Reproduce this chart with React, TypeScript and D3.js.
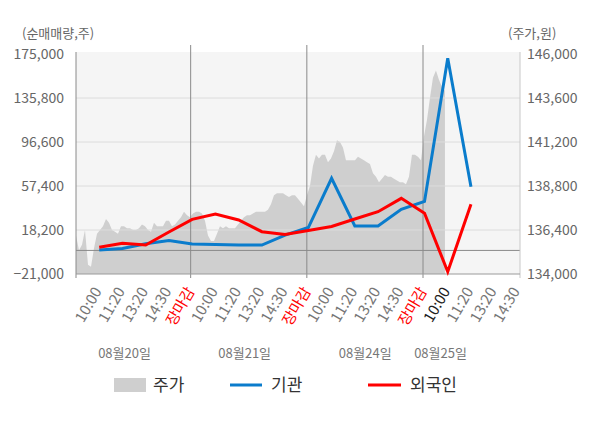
import * as d3 from 'd3'

// x-axis slots: one label per slot
const TIME_LABELS = [
  '10:00', '11:20', '13:20', '14:30', '장마감',
  '10:00', '11:20', '13:20', '14:30', '장마감',
  '10:00', '11:20', '13:20', '14:30', '장마감',
  '10:00', '11:20', '13:20', '14:30',
]
const DATES = ['08월20일', '08월21일', '08월24일', '08월25일']

// net buying (shares), one value per slot
const INSTITUTION = [
  400, 1800, 5900, 8800, 5700, 5300, 4800, 4800, 13700,
  20400, 64300, 21800, 21800, 36600, 43600, 171200, 56800,
]
const FOREIGN = [
  2800, 6400, 4800, 16400, 27700, 32500, 27100, 16700, 14200,
  17800, 21300, 28000, 34500, 46400, 33100, -19000, 41100,
]

// intraday price (won), evenly sampled
const PRICE = [
  136100, 135300, 135600, 136400, 134500, 134400, 135400, 136200, 136400, 136600,
  137000, 136800, 136400, 136300, 136200, 136600, 136600, 136500, 136500, 136400,
  136400, 136500, 136700, 136600, 136400, 136300, 136800, 136600, 136600, 136600,
  136900, 136900, 136600, 136700, 136900, 137100, 137400, 137200, 137100, 137300,
  137400, 137400, 137300, 136900, 136100, 135800, 135800, 136200, 136600, 136500,
  136600, 136500, 136500, 136500, 136700, 136900, 137100, 137200, 137200, 137300,
  137400, 137400, 137400, 137400, 137500, 137800, 138300, 138400, 138400, 138400,
  138300, 138200, 138300, 138300, 138100, 137900, 137700, 138300, 138800, 139900,
  140500, 140300, 140500, 140500, 140100, 140300, 140700, 141300, 141200, 140900,
  140200, 140200, 140200, 140200, 140400, 140300, 140200, 140100, 140000, 139500,
  139300, 139000, 139200, 139400, 139300, 139300, 139200, 139100, 139000, 139000,
  138900, 139300, 140500, 140500, 140400, 140200, 141500, 142400, 143600, 144700,
  145100, 144600, 144200, 144000,
]

const LEFT_TICKS = [-21000, 18200, 57400, 96600, 135800, 175000]
const RIGHT_TICKS = [134000, 136400, 138800, 141200, 143600, 146000]

// layout
const W = 600
const H = 428
const LEFT = 76
const RIGHT = 520
const TOP = 52
const BOTTOM = 274
const DAY_ENDS = [4, 9, 14]
const DATE_SLOTS = [1.09, 6.26, 11.45, 14.69]
const PRICE_END_SLOT = 14.88

const FONT = '"Noto Sans CJK KR", "Noto Sans", sans-serif'
const BLUE = '#0a7ccc'
const RED = '#ff0000'

export default function App() {
  const x = d3.scaleLinear().domain([-1, 18.11]).range([LEFT, RIGHT])
  const yL = d3.scaleLinear().domain([-21000, 175000]).range([BOTTOM, 54])
  const yR = d3.scaleLinear().domain([134000, 146000]).range([BOTTOM, 54])
  const px = d3.scaleLinear().domain([0, PRICE.length - 1]).range([x(-1), x(PRICE_END_SLOT)])

  const area = d3.area<number>()
    .x((_, i) => px(i))
    .y0(yR(134000))
    .y1(d => yR(d))

  const line = d3.line<number>()
    .x((_, i) => x(i))
    .y(d => yL(d))

  return (
    <svg width={W} height={H} style={{ position: 'absolute', left: 0, top: 0 }} fontFamily={FONT}>
      <rect x={0} y={0} width={W} height={H} fill="#fff" />
      <rect x={LEFT} y={TOP} width={RIGHT - LEFT} height={BOTTOM - TOP} fill="#f5f5f5" />

      <path d={area(PRICE) ?? ''} fill="#cfcfcf" />

      {LEFT_TICKS.slice(1, -1).map(t => (
        <line key={t} x1={LEFT} x2={RIGHT} y1={yL(t)} y2={yL(t)} stroke="#dcdcdc" strokeWidth={1} />
      ))}
      <line x1={LEFT} x2={RIGHT} y1={yL(0)} y2={yL(0)} stroke="#8a8a8a" strokeWidth={1} />

      {DAY_ENDS.map(k => (
        <line key={k} x1={x(k) - 1.5} x2={x(k) - 1.5} y1={45} y2={BOTTOM + 4} stroke="#8a8a8a" strokeWidth={1} />
      ))}
      <line x1={LEFT} x2={LEFT} y1={TOP} y2={BOTTOM + 4} stroke="#8a8a8a" strokeWidth={1} />
      <line x1={RIGHT} x2={RIGHT} y1={TOP} y2={BOTTOM + 4} stroke="#c8c8c8" strokeWidth={1} />
      <line x1={LEFT} x2={RIGHT} y1={BOTTOM} y2={BOTTOM} stroke="#9a9a9a" strokeWidth={1} />

      <path d={line(INSTITUTION) ?? ''} fill="none" stroke={BLUE} strokeWidth={3} strokeLinejoin="miter" />
      <path d={line(FOREIGN) ?? ''} fill="none" stroke={RED} strokeWidth={3} strokeLinejoin="miter" />

      {/* axis titles */}
      <text x={22} y={38} fontSize={13} fill="#666">(순매매량,주)</text>
      <text x={508} y={38} fontSize={13} fill="#666">(주가,원)</text>

      {LEFT_TICKS.map(t => (
        <text key={t} x={64} y={yL(t)} dy="0.35em" textAnchor="end" fontSize={14} fill="#666">
          {d3.format(',')(t)}
        </text>
      ))}
      {RIGHT_TICKS.map(t => (
        <text key={t} x={527} y={yR(t)} dy="0.35em" fontSize={14} fill="#666">
          {d3.format(',')(t)}
        </text>
      ))}

      {TIME_LABELS.map((label, k) => {
        const tx = x(k) + 3
        const ty = 291
        const color = label === '장마감' ? RED : k === 15 ? '#222' : '#777'
        return (
          <text key={k} x={tx} y={ty} textAnchor="end" fontSize={15} fill={color}
            transform={`rotate(-60 ${tx} ${ty})`}>
            {label}
          </text>
        )
      })}

      {DATES.map((d, i) => (
        <text key={d} x={x(DATE_SLOTS[i])} y={358} textAnchor="middle" fontSize={13} fill="#777">{d}</text>
      ))}

      {/* legend */}
      <rect x={114} y={378} width={32} height={14} fill="#cfcfcf" />
      <text x={153} y={391} fontSize={17} fill="#333">주가</text>
      <line x1={230} x2={262} y1={385} y2={385} stroke={BLUE} strokeWidth={3} />
      <text x={271} y={391} fontSize={17} fill="#333">기관</text>
      <line x1={368} x2={401} y1={385} y2={385} stroke={RED} strokeWidth={3} />
      <text x={410} y={391} fontSize={17} fill="#333">외국인</text>
    </svg>
  )
}
